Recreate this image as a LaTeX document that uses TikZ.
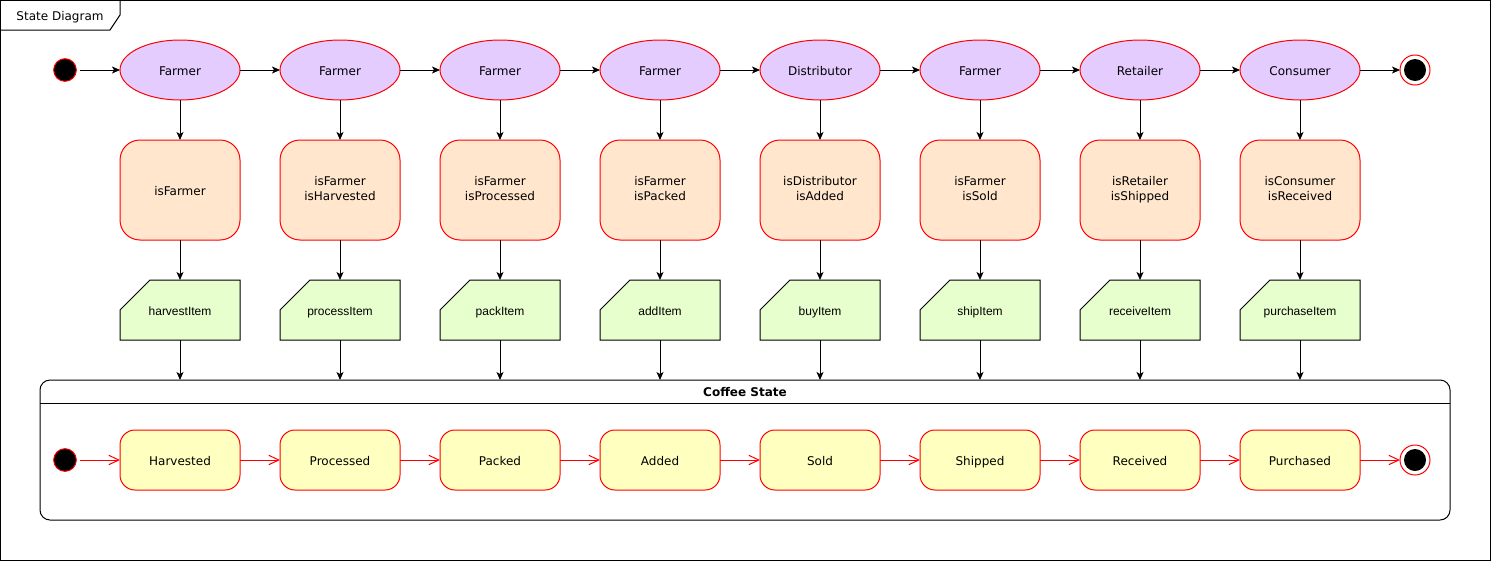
\documentclass[tikz,border=0pt]{standalone}
\usepackage{fontspec}
\setmainfont{DejaVu Sans}
\newfontfamily\cardfont{Liberation Sans}
\usetikzlibrary{shapes.geometric,arrows.meta}

\definecolor{roleFill}{HTML}{E5CCFF}
\definecolor{checkFill}{HTML}{FFE6CC}
\definecolor{callFill}{HTML}{E6FFCC}
\definecolor{stateFill}{HTML}{FFFFC0}
\definecolor{edgeRed}{HTML}{FF0000}

% invisible rule giving every text line the same height and depth
\newcommand{\linestrut}{\rule[-1.8pt]{0pt}{11.25pt}}

\begin{document}
\begin{tikzpicture}[
  x=0.75pt, y=-0.75pt,
  line width=0.75pt,
  every node/.style={font=\fontsize{9}{11.25}\selectfont, inner sep=0pt, outer sep=0pt},
  label text/.style={execute at begin node={\linestrut}, execute at end node={\linestrut}},
  role/.style={ellipse, draw=edgeRed, fill=roleFill, minimum width=90pt, minimum height=45pt, label text},
  check/.style={rectangle, rounded corners=15pt, draw=edgeRed, fill=checkFill,
                minimum width=90pt, minimum height=75pt, align=center, label text},
  call/.style={rectangle, minimum width=90pt, minimum height=45pt,
               font=\cardfont\fontsize{9}{11.25}\selectfont, label text},
  callshape/.style={draw=black, fill=callFill},
  cstate/.style={rectangle, rounded corners=11.25pt, draw=edgeRed, fill=stateFill,
                 minimum width=90pt, minimum height=45pt, label text},
  startdot/.style={circle, draw=edgeRed, fill=black, minimum size=17pt},
  endring/.style={circle, draw=edgeRed, fill=white, minimum size=22.5pt},
  enddot/.style={circle, fill=black, minimum size=16.5pt},
  container/.style={rectangle, rounded corners=7.5pt, draw=black,
                    minimum width=1057.5pt, minimum height=105pt},
  flow/.style={draw=black, -{Stealth[length=6pt,width=5.25pt,inset=1.5pt]}},
  redflow/.style={draw=edgeRed, -{Straight Barb[length=7.5pt,width=7pt]}},
]
\useasboundingbox (0,0) rectangle (1491,561);

% outer frame with its name tab
\draw (0.5,0.5) rectangle (1490.5,560.5);
\draw (0.5,30) -- (110,30) -- (120,15) -- (120,0.5);
\node[label text] (frameTitle) at (60,15) {State Diagram};

% coffee state container
\node[container] (cs) at (745,450) {};
\node[label text, font=\bfseries\fontsize{9}{11.25}\selectfont] (csTitle) at (745,391.5) {Coffee State};
\coordinate (hdrL) at (40,403);
\coordinate (hdrR) at (1450,403);
\draw (hdrL) -- (hdrR);

% columns: actor, checks, function, resulting state
\foreach \x/\role/\chk/\fn/\st [count=\i] in {
  180/Farmer/{isFarmer}/harvestItem/Harvested,
  340/Farmer/{isFarmer\\isHarvested}/processItem/Processed,
  500/Farmer/{isFarmer\\isProcessed}/packItem/Packed,
  660/Farmer/{isFarmer\\isPacked}/addItem/Added,
  820/Distributor/{isDistributor\\isAdded}/buyItem/Sold,
  980/Farmer/{isFarmer\\isSold}/shipItem/Shipped,
  1140/Retailer/{isRetailer\\isShipped}/receiveItem/Received,
  1300/Consumer/{isConsumer\\isReceived}/purchaseItem/Purchased} {
  \node[role] (e\i) at (\x,70) {\role};
  \node[check] (r\i) at (\x,190) {\chk};
  \draw[callshape] (\x-60,310) -- (\x-30,280) -- (\x+60,280) -- (\x+60,340)
                   -- (\x-60,340) -- cycle;
  \node[call] (c\i) at (\x,310) {\fn};
  \node[cstate] (y\i) at (\x,460) {\st};
}

% start and end markers
\node[startdot] (s1) at (65,70) {};
\node[endring] (f1) at (1415,70) {};
\node[enddot] (f1dot) at (1415,70) {};
\node[startdot] (s2) at (65,460) {};
\node[endring] (f2) at (1415,460) {};
\node[enddot] (f2dot) at (1415,460) {};

% top row transitions
\draw[flow, shorten <=3pt] (s1) -- (e1);
\foreach \i [evaluate=\i as \j using int(\i+1)] in {1,...,7}
  \draw[flow] (e\i) -- (e\j);
\draw[flow] (e8) -- (f1);

% vertical flows
\foreach \i in {1,...,8} {
  \draw[flow] (e\i) -- (r\i);
  \draw[flow] (r\i) -- (c\i);
  \draw[flow] (c\i) -- (c\i |- cs.north);
}

% coffee state transitions
\draw[redflow, shorten <=3pt] (s2) -- (y1);
\foreach \i [evaluate=\i as \j using int(\i+1)] in {1,...,7}
  \draw[redflow] (y\i) -- (y\j);
\draw[redflow] (y8) -- (f2);
\end{tikzpicture}
\end{document}
